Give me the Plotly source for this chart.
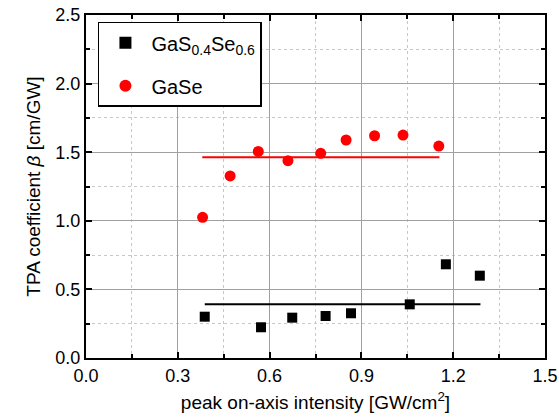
import plotly.graph_objects as go

# GaSe (red circles)
gase_x = [0.381, 0.471, 0.563, 0.660, 0.767, 0.850, 0.943, 1.036, 1.153]
gase_y = [1.025, 1.327, 1.506, 1.438, 1.492, 1.589, 1.620, 1.625, 1.545]
gase_fit_x = [0.380, 1.155]
gase_fit_y = [1.463, 1.463]

# GaS0.4Se0.6 (black squares)
gass_x = [0.388, 0.572, 0.674, 0.783, 0.866, 1.058, 1.176, 1.287]
gass_y = [0.301, 0.224, 0.294, 0.306, 0.326, 0.391, 0.683, 0.600]
gass_fit_x = [0.388, 1.289]
gass_fit_y = [0.391, 0.391]

x_ticks = [0.0, 0.3, 0.6, 0.9, 1.2, 1.5]
y_ticks = [0.0, 0.5, 1.0, 1.5, 2.0, 2.5]

FONT = "Liberation Sans, Arial, sans-serif"

fig = go.Figure()
fig.add_trace(go.Scatter(x=gass_fit_x, y=gass_fit_y, mode="lines",
                         line=dict(color="black", width=2), showlegend=False))
fig.add_trace(go.Scatter(x=gase_fit_x, y=gase_fit_y, mode="lines",
                         line=dict(color="#ff0000", width=2), showlegend=False))
fig.add_trace(go.Scatter(x=gass_x, y=gass_y, mode="markers", legendgroup="a",
                         name="GaS<sub>0.4</sub>Se<sub>0.6</sub>",
                         marker=dict(symbol="square", size=10, color="black")))
fig.add_trace(go.Scatter(x=gase_x, y=gase_y, mode="markers", name="GaSe", legendgroup="b",
                         marker=dict(symbol="circle", size=11, color="#ff0000")))

axis_common = dict(
    showline=True, linecolor="black", linewidth=2, mirror="allticks",
    ticks="inside", ticklen=6, tickwidth=1.5, tickcolor="black",
    showgrid=True, gridcolor="#a0a0a0", gridwidth=1,
    zeroline=False, automargin=False, ticklabeloverflow="allow",
    tickfont=dict(family=FONT, size=18, color="black"),
)

fig.update_xaxes(**axis_common, range=[0, 1.5], tickvals=x_ticks,
                 ticktext=[f"{v:.1f}" for v in x_ticks],
                 minor=dict(dtick=0.15, ticks="inside", ticklen=4, tickcolor="black",
                            showgrid=True, gridcolor="#c8c8c8", griddash="dot", gridwidth=1),
                 title=dict(text="peak on-axis intensity [GW/cm<sup>2</sup>]",
                            font=dict(family=FONT, size=19, color="black"), standoff=11))
fig.update_yaxes(**axis_common, range=[0, 2.5], tickvals=y_ticks,
                 ticktext=[f"{v:.1f}" for v in y_ticks],
                 minor=dict(dtick=0.25, ticks="inside", ticklen=4, tickcolor="black",
                            showgrid=True, gridcolor="#c8c8c8", griddash="dot", gridwidth=1),
                 title=dict(text="TPA coefficient <i>β</i> [cm/GW]",
                            font=dict(family=FONT, size=19, color="black"), standoff=10))

fig.update_layout(
    width=559, height=419,
    margin=dict(l=86, r=14, t=15, b=61),
    paper_bgcolor="white", plot_bgcolor="white",
    legend=dict(x=0.026, y=0.98, xanchor="left", yanchor="top",
                bordercolor="black", borderwidth=1.5, bgcolor="white",
                font=dict(family=FONT, size=20, color="black"),
                itemsizing="constant", itemwidth=42, tracegroupgap=14),
    showlegend=True,
)

# remove the default 8px page margin so the figure fills the window exactly
fig.write_html("out.html",
               config={"displayModeBar": False},
               post_script="document.body.style.margin='0';document.body.style.overflow='hidden';")
